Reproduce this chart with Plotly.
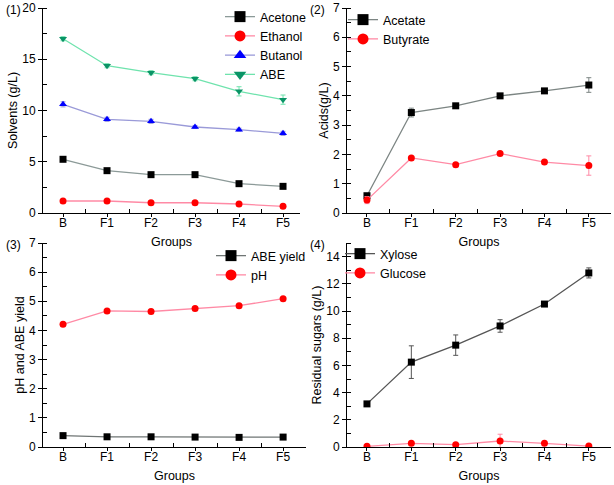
import plotly.graph_objects as go

# ---------------- data ----------------
groups = ["B", "F1", "F2", "F3", "F4", "F5"]

acetone = [5.24, 4.13, 3.74, 3.74, 2.86, 2.60]
acetone_err = [0.10, 0.10, 0.10, 0.10, 0.10, 0.10]
ethanol = [1.17, 1.17, 1.00, 1.00, 0.88, 0.65]
ethanol_err = [0.05, 0.05, 0.05, 0.05, 0.05, 0.05]
butanol = [10.60, 9.14, 8.94, 8.39, 8.13, 7.77]
butanol_err = [0.25, 0.20, 0.20, 0.15, 0.15, 0.20]
abe = [17.00, 14.37, 13.69, 13.10, 11.87, 11.06]
abe_err = [0.20, 0.20, 0.20, 0.20, 0.45, 0.45]

acetate = [0.59, 3.43, 3.66, 4.00, 4.17, 4.37]
acetate_err = [0.05, 0.15, 0.08, 0.05, 0.05, 0.25]
butyrate = [0.44, 1.88, 1.65, 2.03, 1.74, 1.62]
butyrate_err = [0.12, 0.05, 0.06, 0.05, 0.05, 0.33]

abe_yield = [0.39, 0.35, 0.35, 0.34, 0.33, 0.34]
abe_yield_err = [0.01, 0.01, 0.01, 0.01, 0.01, 0.01]
ph = [4.21, 4.67, 4.65, 4.75, 4.85, 5.09]
ph_err = [0.03, 0.03, 0.03, 0.03, 0.03, 0.03]

xylose = [3.17, 6.24, 7.49, 8.90, 10.51, 12.80]
xylose_err = [0.10, 1.20, 0.75, 0.46, 0.10, 0.37]
glucose = [0.05, 0.27, 0.17, 0.44, 0.27, 0.07]
glucose_err = [0.02, 0.10, 0.05, 0.50, 0.05, 0.03]

xs = list(range(len(groups)))

FONT = "Liberation Sans, Arial, sans-serif"
W, H = 614, 485

fig = go.Figure()


def add_series(n, name, y, err, mcolor, lcolor, symbol, legend):
    fig.add_trace(go.Scatter(
        x=xs, y=y, mode="lines+markers", name=name, showlegend=False,
        xaxis="x" if n == 1 else f"x{n}", yaxis="y" if n == 1 else f"y{n}",
        line=dict(color=lcolor, width=1.3),
        marker=dict(color=mcolor, size=7, symbol=symbol, line=dict(width=0)),
        error_y=dict(type="data", array=err, visible=True, color=lcolor,
                     thickness=1, width=2.5),
    ))
    fig.add_trace(go.Scatter(
        x=[None], y=[None], mode="lines+markers", name=name, showlegend=True,
        legend=legend,
        xaxis="x" if n == 1 else f"x{n}", yaxis="y" if n == 1 else f"y{n}",
        line=dict(color=lcolor, width=1.3),
        marker=dict(color=mcolor, size=11, symbol=symbol, line=dict(width=0)),
    ))


BLACK, GRAYL = "#000000", "#8c9a98"
RED, PINK = "#ff0000", "#ff8aa5"
BLUE, LAV = "#0000ff", "#9a9ad8"
GREEN, LGREEN = "#0a9466", "#6fe3ad"

add_series(1, "Acetone", acetone, acetone_err, BLACK, GRAYL, "square", "legend")
add_series(1, "Ethanol", ethanol, ethanol_err, RED, PINK, "circle", "legend")
add_series(1, "Butanol", butanol, butanol_err, BLUE, LAV, "triangle-up", "legend")
add_series(1, "ABE", abe, abe_err, GREEN, LGREEN, "triangle-down", "legend")

add_series(2, "Acetate", acetate, acetate_err, BLACK, "#7c8583", "square", "legend2")
add_series(2, "Butyrate", butyrate, butyrate_err, RED, PINK, "circle", "legend2")

add_series(3, "ABE yield", abe_yield, abe_yield_err, BLACK, "#6f7574", "square", "legend3")
add_series(3, "pH", ph, ph_err, RED, PINK, "circle", "legend3")

add_series(4, "Xylose", xylose, xylose_err, BLACK, "#555555", "square", "legend4")
add_series(4, "Glucose", glucose, glucose_err, RED, PINK, "circle", "legend4")


def px_x(a, b):
    return [a / W, b / W]


def px_y(top, bottom):
    return [1 - bottom / H, 1 - top / H]


def xaxis(domain, rng, anchor):
    return dict(
        domain=domain, range=rng, anchor=anchor,
        tickmode="array", tickvals=xs, ticktext=groups,
        ticks="outside", ticklen=3, tickwidth=1, tickcolor="black",
        minor=dict(tickmode="array", tickvals=[i + 0.5 for i in xs[:-1]],
                   ticks="inside", ticklen=4, tickwidth=1, tickcolor="black"),
        showline=True, linecolor="black", linewidth=1,
        showgrid=False, zeroline=False,
        tickfont=dict(family=FONT, size=12, color="black"),
        ticklabelstandoff=-4,
        title=dict(text="Groups", font=dict(family=FONT, size=12.5, color="black"),
                   standoff=7),
        automargin=False,
    )


def yaxis(domain, rng, dtick, mdtick, anchor, title):
    return dict(
        domain=domain, range=rng, anchor=anchor,
        tickmode="linear", tick0=0, dtick=dtick,
        ticks="outside", ticklen=4, tickwidth=1, tickcolor="black",
        minor=dict(tick0=0, dtick=mdtick, ticks="inside", ticklen=4,
                   tickwidth=1, tickcolor="black"),
        showline=True, linecolor="black", linewidth=1,
        showgrid=False, zeroline=False,
        tickfont=dict(family=FONT, size=12, color="black"),
        title=dict(text=title, font=dict(family=FONT, size=12.5, color="black"),
                   standoff=1),
        automargin=False,
    )


fig.update_layout(
    width=W, height=H, autosize=False,
    margin=dict(l=0, r=0, t=0, b=0),
    paper_bgcolor="white", plot_bgcolor="white",
    font=dict(family=FONT, size=12, color="black"),
    xaxis=xaxis(px_x(43, 300), [-0.455, 5.386], "y"),
    yaxis=yaxis(px_y(8, 213), [0, 20], 5, 2.5, "x", "Solvents (g/L)"),
    xaxis2=xaxis(px_x(347, 611), [-0.45, 5.5], "y2"),
    yaxis2=yaxis(px_y(8, 213), [0, 7], 1, 0.5, "x2", "Acids(g/L)"),
    xaxis3=xaxis(px_x(43, 306), [-0.455, 5.52], "y3"),
    yaxis3=yaxis(px_y(243, 447), [0, 7], 1, 0.5, "x3", "pH and ABE yield"),
    xaxis4=xaxis(px_x(347, 611), [-0.45, 5.5], "y4"),
    yaxis4=yaxis(px_y(243, 447), [0, 15], 2, 1, "x4", "Residual sugars (g/L)"),
)

leg_common = dict(bgcolor="rgba(0,0,0,0)", borderwidth=0,
                  font=dict(family=FONT, size=12.5, color="black"),
                  xanchor="left", yanchor="top", itemwidth=30,
                  tracegroupgap=0)
fig.update_layout(
    legend=dict(x=220 / W, y=1 - 2 / H, **leg_common),
    legend2=dict(x=343 / W, y=1 - 5 / H, **leg_common),
    legend3=dict(x=211 / W, y=1 - 241 / H, **leg_common),
    legend4=dict(x=340 / W, y=1 - 239 / H, **leg_common),
)

for txt, x, y in [("(1)", 4, 10), ("(2)", 308, 10), ("(3)", 4, 245), ("(4)", 308, 245)]:
    fig.add_annotation(text=txt, x=x / W, y=1 - y / H, xref="paper", yref="paper",
                       xanchor="left", yanchor="middle", showarrow=False,
                       font=dict(family=FONT, size=12, color="black"))

fig.write_html(
    "out.html",
    config={"displayModeBar": False},
    post_script="document.body.style.margin='0';document.body.style.padding='0';"
                "document.documentElement.style.overflow='hidden';",
)
